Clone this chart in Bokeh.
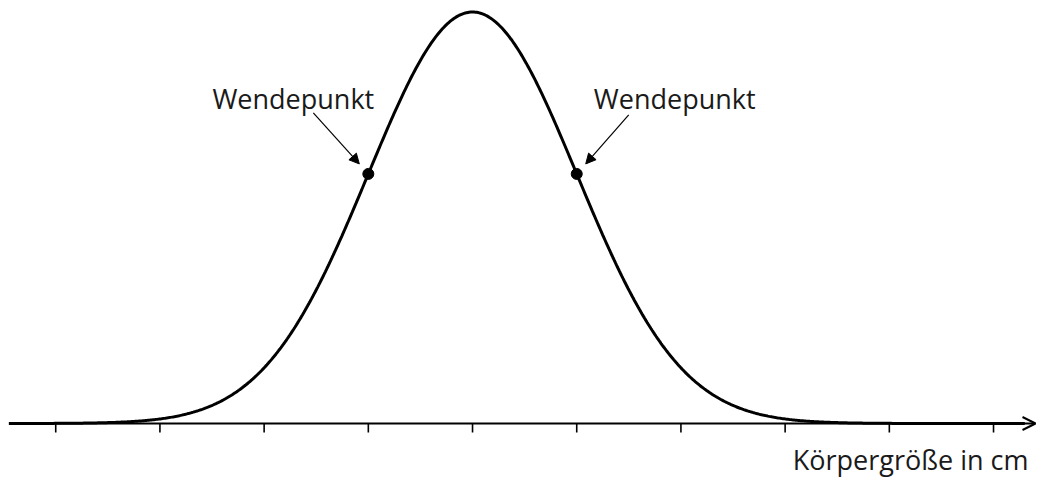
import numpy as np
from bokeh.plotting import figure
from bokeh.models import Arrow, OpenHead, NormalHead, Label
from bokeh.embed import file_html
from bokeh.resources import INLINE

# --- data (in units of standard deviations around the mean) ---
mu = 0.0
sigma = 1.0
tick_positions = [-4, -3, -2, -1, 0, 1, 2, 3, 4, 5]
inflection_x = [mu - sigma, mu + sigma]
annotation_text = ["Wendepunkt", "Wendepunkt"]
axis_title = "Körpergröße in cm"
curve_start, curve_end = -4.45, 5.3

def pdf(x):
    return np.exp(-0.5 * ((x - mu) / sigma) ** 2) / (sigma * np.sqrt(2 * np.pi))

# --- figure geometry ---
W, H = 1037, 478
x_range = (-4.530, 5.422)
y_range = (-0.05332, 0.41009)
px_x = W / (x_range[1] - x_range[0])
px_y = H / (y_range[1] - y_range[0])

p = figure(width=W, height=H, x_range=x_range, y_range=y_range,
           output_backend="svg", toolbar_location=None, min_border=0)
p.axis.visible = False
p.grid.visible = False
p.outline_line_color = None
p.background_fill_color = "white"

# x-axis line with open arrow head
p.add_layout(Arrow(end=OpenHead(size=13, line_width=2, line_color="black"),
                   x_start=-4.434, y_start=0, x_end=5.403, y_end=0,
                   line_width=2, line_color="black"))

# tick marks (below the axis)
tick_len = 9 / px_y
p.segment(x0=tick_positions, y0=[0] * len(tick_positions),
          x1=tick_positions, y1=[-tick_len] * len(tick_positions),
          line_color="black", line_width=1.6)

# bell curve
xs = np.linspace(curve_start, curve_end, 800)
p.line(xs, pdf(xs), line_color="black", line_width=3)

# inflection points
iy = [float(pdf(x)) for x in inflection_x]
p.scatter(inflection_x, iy, size=11, fill_color="black", line_color="black")

# annotation arrows and labels (offsets in pixels relative to the points)
arrow_tail = [(-55, 61), (52, 59)]
arrow_tip = [(-9, 10), (9, 10)]
label_pos = [(-75, 75), (98, 75)]
for xi, yi, txt, (tx, ty), (hx, hy), (lx, ly) in zip(
        inflection_x, iy, annotation_text, arrow_tail, arrow_tip, label_pos):
    p.add_layout(Arrow(end=NormalHead(size=10, fill_color="black", line_color="black", line_width=1),
                       x_start=xi + tx / px_x, y_start=yi + ty / px_y,
                       x_end=xi + hx / px_x, y_end=yi + hy / px_y,
                       line_width=1.2, line_color="black"))
    p.add_layout(Label(x=xi + lx / px_x, y=yi + ly / px_y, text=txt,
                       text_font="Open Sans", text_font_size="27px",
                       text_color="#1a1a1a", text_align="center",
                       text_baseline="alphabetic"))

p.add_layout(Label(x=x_range[1] - 9 / px_x, y=-36 / px_y, text=axis_title,
                   text_font="Open Sans", text_font_size="27px",
                   text_color="#1a1a1a", text_align="right",
                   text_baseline="alphabetic"))

open("out.html", "w").write(file_html(p, INLINE))
